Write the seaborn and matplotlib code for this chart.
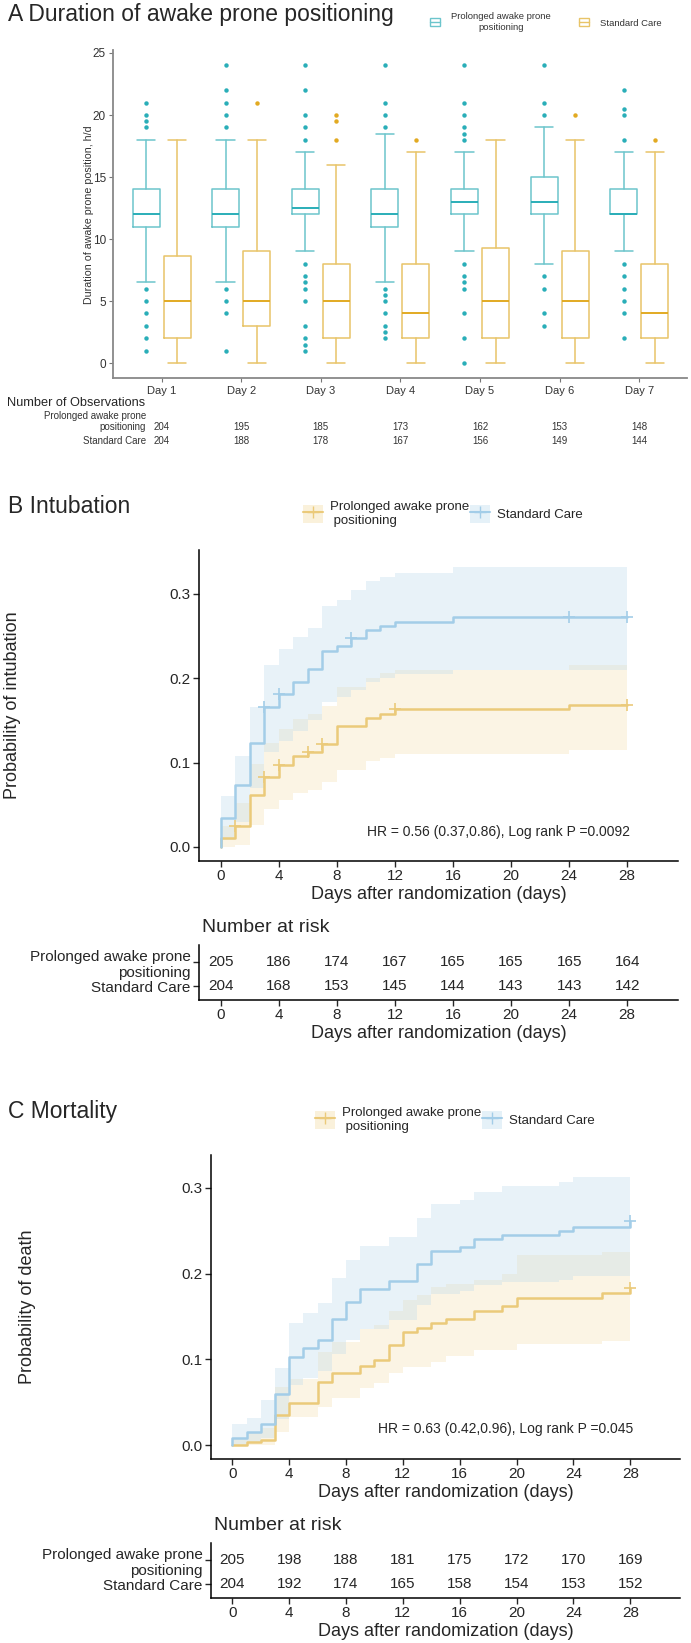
import numpy as np
import pandas as pd
import matplotlib
matplotlib.use("Agg")
import matplotlib.pyplot as plt
import matplotlib.transforms as mtransforms
from matplotlib.patches import Patch
from matplotlib.lines import Line2D
from matplotlib.legend_handler import HandlerTuple
import seaborn as sns

# ---------------- Panel A: hours of awake prone positioning per day ----------------
days = ["Day 1", "Day 2", "Day 3", "Day 4", "Day 5", "Day 6", "Day 7"]

prone_q1 = [11, 11, 12, 11, 12, 12, 12]
prone_med = [12, 12, 12.5, 12, 13, 13, 12]
prone_q3 = [14, 14, 14, 14, 14, 15, 14]
prone_whislo = [6.5, 6.5, 9, 6.5, 9, 8, 9]
prone_whishi = [18, 18, 17, 18.5, 17, 19, 17]
prone_fliers = [
    [1, 2, 3, 4, 5, 6, 19, 19.5, 20, 21],
    [1, 4, 5, 6, 19, 20, 21, 22, 24],
    [1, 1.5, 2, 3, 5, 6, 6.5, 7, 8, 18, 19, 20, 22, 24],
    [2, 2.5, 3, 4, 5, 5.5, 6, 19, 20, 21, 24],
    [0, 2, 4, 6, 6.5, 7, 8, 18, 18.5, 19, 20, 21, 24],
    [3, 4, 6, 7, 20, 21, 24],
    [2, 4, 5, 6, 7, 8, 18, 20, 20.5, 22],
]

std_q1 = [2, 3, 2, 2, 2, 2, 2]
std_med = [5, 5, 5, 4, 5, 5, 4]
std_q3 = [8.6, 9, 8, 8, 9.25, 9, 8]
std_whislo = [0, 0, 0, 0, 0, 0, 0]
std_whishi = [18, 18, 16, 17, 18, 18, 17]
std_fliers = [[], [21], [18, 19.5, 20], [18], [], [20], [18]]

obs_prone = [204, 195, 185, 173, 162, 153, 148]
obs_std = [204, 188, 178, 167, 156, 149, 144]

# ---------------- Panel B: cumulative intubation ----------------
b_std_t = [0, 1, 2, 3, 4, 5, 6, 7, 8, 9, 10, 11, 12, 16, 28]
b_std_p = [0.034, 0.0735, 0.123, 0.166, 0.181, 0.196, 0.211, 0.232, 0.238, 0.248, 0.257, 0.262, 0.267, 0.272, 0.272]
b_std_lo = [0.008, 0.03, 0.07, 0.112, 0.125, 0.138, 0.151, 0.172, 0.178, 0.186, 0.195, 0.2, 0.205, 0.21, 0.21]
b_std_hi = [0.06, 0.108, 0.166, 0.216, 0.235, 0.249, 0.26, 0.286, 0.293, 0.305, 0.315, 0.32, 0.325, 0.332, 0.332]
b_std_cens = [3, 4, 9, 24, 28]

b_prone_t = [0, 1, 2, 3, 4, 5, 6, 7, 8, 10, 11, 12, 24, 28]
b_prone_p = [0.01, 0.025, 0.061, 0.083, 0.097, 0.108, 0.113, 0.122, 0.143, 0.153, 0.158, 0.163, 0.168, 0.168]
b_prone_lo = [0.0, 0.002, 0.026, 0.045, 0.056, 0.064, 0.068, 0.077, 0.091, 0.102, 0.106, 0.11, 0.115, 0.115]
b_prone_hi = [0.025, 0.052, 0.098, 0.123, 0.14, 0.152, 0.158, 0.167, 0.19, 0.2, 0.206, 0.21, 0.216, 0.216]
b_prone_cens = [1, 3, 4, 6, 7, 12, 28]

risk_days = [0, 4, 8, 12, 16, 20, 24, 28]
b_risk_prone = [205, 186, 174, 167, 165, 165, 165, 164]
b_risk_std = [204, 168, 153, 145, 144, 143, 143, 142]

# ---------------- Panel C: cumulative mortality ----------------
c_std_t = [0, 1, 2, 3, 4, 5, 6, 7, 8, 9, 11, 13, 14, 16, 17, 19, 23, 24, 28]
c_std_p = [0.0085, 0.0148, 0.025, 0.0595, 0.103, 0.113, 0.1225, 0.147, 0.167, 0.182, 0.192, 0.211, 0.226, 0.231, 0.240, 0.245, 0.25, 0.255, 0.262]
c_std_lo = [0.0, 0.002, 0.008, 0.03, 0.07, 0.078, 0.086, 0.106, 0.123, 0.136, 0.146, 0.163, 0.176, 0.18, 0.187, 0.19, 0.193, 0.197, 0.2]
c_std_hi = [0.025, 0.031, 0.0525, 0.0895, 0.143, 0.154, 0.166, 0.1945, 0.216, 0.232, 0.243, 0.2645, 0.281, 0.286, 0.2956, 0.302, 0.307, 0.313, 0.313]
c_std_cens = [28]

c_prone_t = [0, 1, 2, 3, 4, 6, 7, 9, 10, 11, 12, 13, 14, 15, 17, 19, 20, 26, 28]
c_prone_p = [0.0, 0.003, 0.006, 0.035, 0.0486, 0.074, 0.0837, 0.0926, 0.099, 0.1167, 0.132, 0.137, 0.1427, 0.147, 0.1567, 0.162, 0.172, 0.177, 0.183]
c_prone_lo = [0.0, 0.0, 0.0, 0.015, 0.033, 0.0447, 0.0545, 0.066, 0.0727, 0.0837, 0.091, 0.091, 0.097, 0.104, 0.111, 0.111, 0.118, 0.121, 0.121]
c_prone_hi = [0.008, 0.015, 0.02, 0.068, 0.077, 0.109, 0.12, 0.136, 0.14, 0.157, 0.169, 0.175, 0.185, 0.188, 0.1925, 0.2, 0.222, 0.2256, 0.2256]
c_prone_cens = [28]

c_risk_prone = [205, 198, 188, 181, 175, 172, 170, 169]
c_risk_std = [204, 192, 174, 165, 158, 154, 153, 152]

group_names = ["Prolonged awake prone\n positioning", "Standard Care"]

# ---------------- style ----------------
sns.set_style("ticks")
plt.rcParams["font.family"] = ["Liberation Sans", "DejaVu Sans"]

CYAN, CYAN_DOT = "#6CC5CC", "#2AAEB8"
GOLD, GOLD_DOT = "#E8C468", "#E2AA22"
LINE_Y, LINE_B = "#EBCA7A", "#A3CDE8"
BAND_Y, BAND_B = "#F3DCA6", "#B6D7EB"
ALPHA_Y, ALPHA_B = 0.3, 0.3

W, H = 691, 1643
fig = plt.figure(figsize=(W / 100, H / 100), dpi=100)


def px_box(x0, y0, x1, y1):
    # pixel rectangle (top-left origin) -> figure fraction
    return [x0 / W, 1 - y1 / H, (x1 - x0) / W, (y1 - y0) / H]


def fy(y):
    return 1 - y / H


# ================= Panel A =================
axA = fig.add_axes(px_box(113, 50.5, 687, 378))
pos = np.arange(len(days))


def make_stats(q1, med, q3, lo, hi, fl):
    return [dict(q1=a, med=b, q3=c, whislo=d, whishi=e, fliers=f)
            for a, b, c, d, e, f in zip(q1, med, q3, lo, hi, fl)]


for stats, offset, col, dot in [
    (make_stats(prone_q1, prone_med, prone_q3, prone_whislo, prone_whishi, prone_fliers), -0.195, CYAN, CYAN_DOT),
    (make_stats(std_q1, std_med, std_q3, std_whislo, std_whishi, std_fliers), 0.195, GOLD, GOLD_DOT),
]:
    axA.bxp(stats, positions=pos + offset, widths=0.34, capwidths=0.23,
            boxprops=dict(color=col, lw=1.1),
            whiskerprops=dict(color=col, lw=1.1),
            capprops=dict(color=col, lw=1.1),
            medianprops=dict(color=dot, lw=1.4),
            flierprops=dict(marker="o", markersize=3.2, markerfacecolor=dot,
                            markeredgecolor="none"))

axA.set_xlim(-0.61, 6.6)
axA.set_ylim(-1.2, 25.2)
axA.set_yticks([0, 5, 10, 15, 20, 25])
axA.set_xticks(pos)
axA.set_xticklabels(days)
axA.tick_params(axis="y", labelsize=8.5, length=3, color="#777777", labelcolor="#333333", pad=2)
axA.tick_params(axis="x", labelsize=8, length=3, color="#777777", labelcolor="#333333", pad=3)
sns.despine(ax=axA)
for s in ["left", "bottom"]:
    axA.spines[s].set_color("#888888")
    axA.spines[s].set_linewidth(1.3)
axA.set_ylabel("Duration of awake prone position, h/d", fontsize=7.7, color="#333333")
axA.yaxis.set_label_coords((94 - 113) / 574, 0.5)

fig.text(8 / W, fy(21), "A Duration of awake prone positioning", fontsize=16.5, va="baseline")

legA = fig.legend(
    handles=[(Patch(facecolor="white", edgecolor=CYAN, lw=1), Line2D([], [], color=CYAN, lw=1)),
             (Patch(facecolor="white", edgecolor=GOLD, lw=1), Line2D([], [], color=GOLD, lw=1))],
    labels=["Prolonged awake prone\npositioning", "Standard Care"],
    handler_map={tuple: HandlerTuple(ndivide=1)},
    ncol=2, frameon=False, loc="center", bbox_to_anchor=(546 / W, fy(22)),
    fontsize=6.8, handlelength=1.0, handleheight=1.0, columnspacing=3.0, handletextpad=1.2)
for t in legA.get_texts():
    t.set_multialignment("center")
    t.set_color("#333333")

# observations table under panel A
trA = mtransforms.blended_transform_factory(axA.transData, fig.transFigure)
fig.text(7 / W, fy(403), "Number of Observations", fontsize=9.2, va="center")
fig.text(146 / W, fy(421.5), "Prolonged awake prone\npositioning", fontsize=7, va="center",
         ha="right", multialignment="right", color="#333333")
fig.text(146 / W, fy(441), "Standard Care", fontsize=7, va="center", ha="right", color="#333333")
for i in range(len(days)):
    axA.text(pos[i], fy(427), str(obs_prone[i]), transform=trA, ha="center", va="center",
             fontsize=7, color="#333333")
    axA.text(pos[i], fy(441), str(obs_std[i]), transform=trA, ha="center", va="center",
             fontsize=7, color="#333333")


# ================= KM panels =================
def km_panel(ax, curves, ylim, ylabel, ylab_x, hr_text, hr_y):
    for t, p, lo, hi, cens, band, alpha, line, name in curves:
        ax.fill_between(t, lo, hi, step="post", color=band, alpha=alpha, lw=0)
    frames = []
    for t, p, lo, hi, cens, band, alpha, line, name in curves:
        frames.append(pd.DataFrame({"day": [0] + list(t), "prob": [0] + list(p), "group": name}))
    df = pd.concat(frames, ignore_index=True)
    sns.lineplot(data=df, x="day", y="prob", hue="group",
                 palette={curves[0][8]: curves[0][7], curves[1][8]: curves[1][7]},
                 estimator=None, sort=False, drawstyle="steps-post", lw=1.8,
                 legend=False, ax=ax)
    for t, p, lo, hi, cens, band, alpha, line, name in curves:
        idx = np.searchsorted(t, cens, side="right") - 1
        sns.scatterplot(x=cens, y=np.asarray(p)[idx], marker="+", s=70, color=line,
                        linewidth=1.2, ax=ax, legend=False, zorder=5)
    ax.set_xlim(-1.5, 31.5)
    ax.set_ylim(*ylim)
    ax.set_xticks(risk_days)
    ax.set_yticks([0.0, 0.1, 0.2, 0.3])
    ax.set_yticklabels(["0.0", "0.1", "0.2", "0.3"])
    ax.tick_params(labelsize=11, length=4, width=1, pad=2)
    sns.despine(ax=ax)
    for s in ["left", "bottom"]:
        ax.spines[s].set_color("black")
        ax.spines[s].set_linewidth(1.1)
    ax.set_xlabel("Days after randomization (days)", fontsize=13, labelpad=2)
    ax.set_ylabel(ylabel, fontsize=13)
    ax.yaxis.set_label_coords(ylab_x, 0.5)
    ax.text(28.2, hr_y, hr_text, ha="right", va="center", fontsize=10)


def risk_table(ax, prone, std, title_y):
    ax.set_xlim(-1.5, 31.5)
    ax.set_ylim(-0.58, 1.71)
    for i, d in enumerate(risk_days):
        ax.text(d, 1, str(prone[i]), ha="center", va="center", fontsize=11)
        ax.text(d, 0, str(std[i]), ha="center", va="center", fontsize=11)
    ax.set_xticks(risk_days)
    ax.set_yticks([0, 1])
    ax.set_yticklabels(["Standard Care", "Prolonged awake prone\npositioning"])
    ax.tick_params(labelsize=11, length=4, width=1, pad=2)
    sns.despine(ax=ax)
    for s in ["left", "bottom"]:
        ax.spines[s].set_color("black")
        ax.spines[s].set_linewidth(1.1)
    ax.set_xlabel("Days after randomization (days)", fontsize=13, labelpad=2)
    bb = ax.get_position()
    fig.text(bb.x0 + 3 / W, fy(title_y), "Number at risk", fontsize=14, va="center")


def km_legend(cy, cx):
    handles = [(Patch(facecolor=BAND_Y, alpha=ALPHA_Y + 0.1, lw=0),
                Line2D([], [], color=LINE_Y, lw=1.5, marker="+", ms=8)),
               (Patch(facecolor=BAND_B, alpha=ALPHA_B + 0.05, lw=0),
                Line2D([], [], color=LINE_B, lw=1.5, marker="+", ms=8))]
    fig.legend(handles=handles, labels=group_names,
               handler_map={tuple: HandlerTuple(ndivide=1)},
               ncol=2, frameon=False, loc="center", bbox_to_anchor=(cx / W, fy(cy)),
               fontsize=9.5, handlelength=1.5, handleheight=1.75, columnspacing=0.1,
               handletextpad=0.5)


# ---- Panel B ----
axB = fig.add_axes(px_box(199, 550, 678, 861))
km_panel(axB,
         [(b_prone_t, b_prone_p, b_prone_lo, b_prone_hi, b_prone_cens, BAND_Y, ALPHA_Y, LINE_Y, group_names[0]),
          (b_std_t, b_std_p, b_std_lo, b_std_hi, b_std_cens, BAND_B, ALPHA_B, LINE_B, group_names[1])],
         (-0.0167, 0.352), "Probability of intubation", (21 - 199) / 479,
         "HR = 0.56 (0.37,0.86), Log rank P =0.0092", 0.018)
fig.text(8 / W, fy(513), "B Intubation", fontsize=16.5, va="baseline")
km_legend(514, 443)

axBt = fig.add_axes(px_box(199, 945, 678, 1000))
risk_table(axBt, b_risk_prone, b_risk_std, 927)

# ---- Panel C ----
axC = fig.add_axes(px_box(211, 1155, 680, 1459))
km_panel(axC,
         [(c_prone_t, c_prone_p, c_prone_lo, c_prone_hi, c_prone_cens, BAND_Y, ALPHA_Y, LINE_Y, group_names[0]),
          (c_std_t, c_std_p, c_std_lo, c_std_hi, c_std_cens, BAND_B, ALPHA_B, LINE_B, group_names[1])],
         (-0.0163, 0.3385), "Probability of death", (36 - 211) / 469,
         "HR = 0.63 (0.42,0.96), Log rank P =0.045", 0.0187)
fig.text(8 / W, fy(1118), "C Mortality", fontsize=16.5, va="baseline")
km_legend(1120, 455)

axCt = fig.add_axes(px_box(211, 1543, 680, 1598))
risk_table(axCt, c_risk_prone, c_risk_std, 1525)

fig.savefig("out.png", dpi=100)
